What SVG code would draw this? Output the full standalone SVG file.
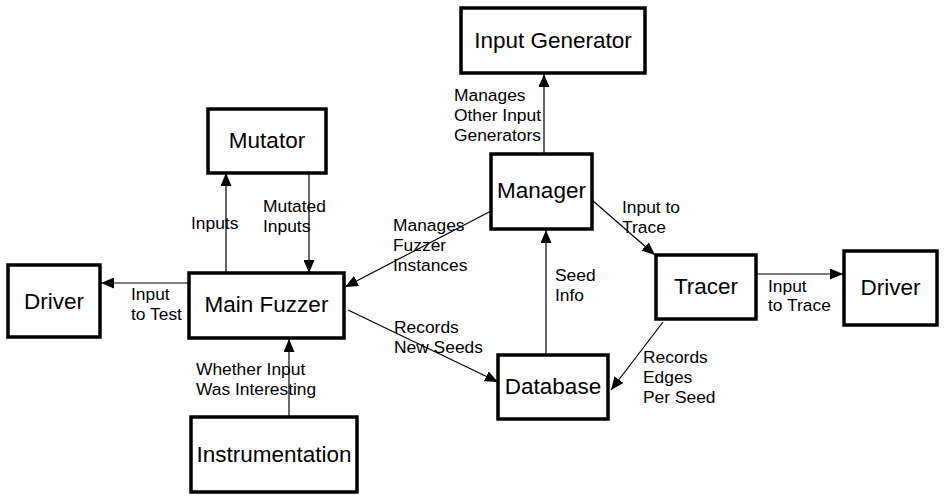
<svg xmlns="http://www.w3.org/2000/svg" width="946" height="501" viewBox="0 0 946 501">
<style>
.box{fill:#fff;stroke:#000;stroke-width:3.5}
.nt{font-family:"Liberation Sans",Arial,sans-serif;font-size:22.5px;fill:#000;text-anchor:middle}
.lb{font-family:"Liberation Sans",Arial,sans-serif;font-size:17.4px;fill:#000}
.cn{stroke:#000;stroke-width:1.2;fill:none;marker-end:url(#ah)}
</style>
<defs>
<marker id="ah" markerUnits="userSpaceOnUse" markerWidth="14" markerHeight="11" refX="13" refY="5.5" orient="auto">
<path d="M0,0 L13,5.5 L0,11 z" fill="#000"/>
</marker>
</defs>
<rect width="946" height="501" fill="#fff"/>
<g id="connectors">
<line class="cn" x1="226" y1="273" x2="226" y2="173"/>
<line class="cn" x1="309" y1="173" x2="309" y2="273"/>
<line class="cn" x1="189" y1="283" x2="101" y2="283"/>
<line class="cn" x1="289" y1="417" x2="289" y2="339"/>
<line class="cn" x1="544" y1="154" x2="544" y2="74"/>
<line class="cn" x1="491" y1="211" x2="345" y2="287"/>
<line class="cn" x1="348" y1="310" x2="498" y2="382"/>
<line class="cn" x1="546" y1="355" x2="546" y2="230"/>
<line class="cn" x1="592" y1="200" x2="655" y2="255"/>
<line class="cn" x1="663" y1="322" x2="611" y2="390"/>
<line class="cn" x1="756" y1="274" x2="843" y2="274"/>
<text class="lb" x="191" y="229">Inputs</text>
<text class="lb" x="263" y="212">Mutated</text>
<text class="lb" x="263" y="232">Inputs</text>
<text class="lb" x="131" y="300">Input</text>
<text class="lb" x="131" y="320">to Test</text>
<text class="lb" x="196" y="375">Whether Input</text>
<text class="lb" x="196" y="395">Was Interesting</text>
<text class="lb" x="454" y="101">Manages</text>
<text class="lb" x="454" y="121">Other Input</text>
<text class="lb" x="454" y="141">Generators</text>
<text class="lb" x="393" y="231">Manages</text>
<text class="lb" x="393" y="251">Fuzzer</text>
<text class="lb" x="393" y="271">Instances</text>
<text class="lb" x="394" y="333">Records</text>
<text class="lb" x="394" y="353">New Seeds</text>
<text class="lb" x="555" y="281">Seed</text>
<text class="lb" x="555" y="301">Info</text>
<text class="lb" x="622" y="213">Input to</text>
<text class="lb" x="622" y="233">Trace</text>
<text class="lb" x="768" y="292">Input</text>
<text class="lb" x="768" y="311">to Trace</text>
<text class="lb" x="643" y="363">Records</text>
<text class="lb" x="643" y="383">Edges</text>
<text class="lb" x="643" y="403">Per Seed</text>
</g>
<g id="mutator"><rect class="box" x="208" y="109" width="118" height="64"/><text class="nt" x="267" y="148">Mutator</text></g>
<g id="driver-left"><rect class="box" x="8" y="265" width="92" height="72"/><text class="nt" x="54" y="309">Driver</text></g>
<g id="main-fuzzer"><rect class="box" x="189" y="273" width="155" height="65"/><text class="nt" x="266.5" y="312">Main Fuzzer</text></g>
<g id="instrumentation"><rect class="box" x="191" y="417" width="166" height="75"/><text class="nt" x="274" y="462">Instrumentation</text></g>
<g id="input-generator"><rect class="box" x="461" y="8" width="184" height="65"/><text class="nt" x="553" y="48">Input Generator</text></g>
<g id="manager"><rect class="box" x="491" y="154" width="101" height="75"/><text class="nt" x="541.5" y="198">Manager</text></g>
<g id="database"><rect class="box" x="498" y="355" width="110" height="64"/><text class="nt" x="553" y="394">Database</text></g>
<g id="tracer"><rect class="box" x="656" y="255" width="100" height="64"/><text class="nt" x="706" y="294">Tracer</text></g>
<g id="driver-right"><rect class="box" x="844" y="251" width="93" height="74"/><text class="nt" x="890.5" y="295">Driver</text></g>
</svg>
